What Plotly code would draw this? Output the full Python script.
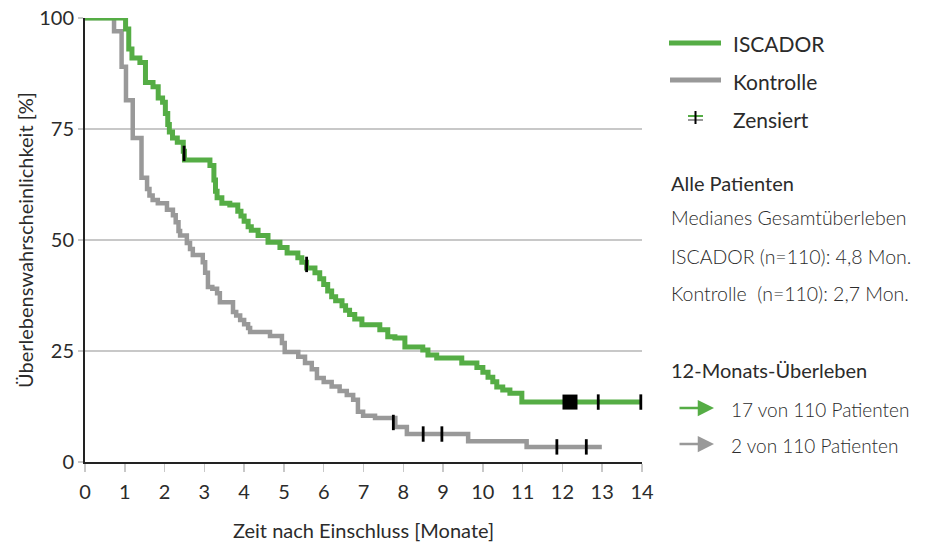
import plotly.graph_objects as go

# ---------------- data ----------------
iscador_t = [0, 1.02, 1.10, 1.18, 1.38, 1.52, 1.71, 1.84, 1.95, 2.02, 2.08, 2.12, 2.20, 2.32, 2.47, 2.50,
             3.14, 3.24, 3.28, 3.32, 3.44, 3.64, 3.84, 3.92, 4.00, 4.10, 4.18, 4.35, 4.60, 4.90, 5.08,
             5.35, 5.45, 5.57, 5.78, 5.90, 6.00, 6.10, 6.20, 6.30, 6.46, 6.55, 6.65, 6.78, 6.96, 7.41,
             7.61, 7.79, 8.04, 8.49, 8.62, 8.84, 9.47, 9.85, 10.00, 10.13, 10.25, 10.35, 10.50, 10.68,
             10.98, 13.97]
iscador_s = [100, 97.5, 93, 91, 90, 85.5, 84.5, 82, 81, 78.5, 76, 74.3, 73, 72, 70, 68,
             66.8, 63.5, 61, 59.5, 58.3, 57.9, 56.5, 55.4, 54.2, 53, 52.2, 51, 49.5, 48.3, 47.1,
             46, 45, 43.7, 42.6, 41.3, 40, 38.5, 37.2, 36.3, 35.2, 34.2, 33.2, 32.2, 30.9, 29.8,
             28.2, 27.9, 25.9, 25.2, 24.1, 23.4, 22.3, 21.3, 20.2, 19.1, 18.1, 16.9, 16.2, 15.5,
             13.5, 13.5]

kontrolle_t = [0, 0.73, 0.92, 1.03, 1.20, 1.42, 1.56, 1.62, 1.70, 1.83, 2.06, 2.21, 2.28, 2.35, 2.39,
               2.56, 2.64, 2.71, 2.96, 3.02, 3.09, 3.20, 3.32, 3.39, 3.72, 3.80, 3.90, 4.00, 4.10, 4.15,
               4.65, 4.95, 5.02, 5.36, 5.53, 5.70, 5.83, 6.00, 6.20, 6.40, 6.58, 6.74, 6.86, 6.99, 7.29,
               7.80, 8.09, 9.63, 11.10, 12.99]
kontrolle_s = [100, 97, 89, 81.5, 73, 64, 61.5, 60, 59, 58.3, 56.8, 55.6, 54, 52, 51,
               49.3, 48, 46.6, 45, 42.6, 39.4, 39, 38, 36, 33.8, 33, 32, 31, 30.2, 29.3,
               28.4, 26.8, 24.8, 23.7, 22.3, 20.9, 18.9, 18, 17, 16, 15.1, 14, 11.3, 10.4, 9.9,
               7.9, 6.3, 4.7, 3.4, 3.4]

cens_isc_t = [2.49, 5.57, 12.9, 13.97]
cens_isc_s = [69.5, 44.5, 13.5, 13.5]
cens_isc_block_t = [12.19]
cens_isc_block_s = [13.5]
cens_kon_t = [7.75, 8.5, 8.97, 11.86, 12.6]
cens_kon_s = [8.9, 6.3, 6.3, 3.4, 3.4]

x_ticks = list(range(0, 15))
y_ticks = [0, 25, 50, 75, 100]

legend_labels = ["ISCADOR", "Kontrolle", "Zensiert"]
info_lines = ["Medianes Gesamtüberleben", "ISCADOR (n=110): 4,8 Mon.", "Kontrolle  (n=110): 2,7 Mon."]
surv12 = ["17 von 110 Patienten", "2 von 110 Patienten"]

GREEN = "#55AD45"
GRAY = "#999999"
TXT = "#2b2b2b"
FONT = "Lato"

W, H = 946, 547
L, R, T, B = 85, 304, 18, 85
PW, PH = W - L - R, H - T - B


def px(xp):  # page x -> paper
    return (xp - L) / PW


def py(yp):  # page y -> paper
    return (H - B - yp) / PH


fig = go.Figure()
fig.add_trace(go.Scatter(x=kontrolle_t, y=kontrolle_s, mode="lines", line=dict(color=GRAY, width=4.5, shape="hv"),
                         cliponaxis=False, showlegend=False, hoverinfo="skip"))
fig.add_trace(go.Scatter(x=iscador_t, y=iscador_s, mode="lines", line=dict(color=GREEN, width=5, shape="hv"),
                         cliponaxis=False, showlegend=False, hoverinfo="skip"))
fig.add_trace(go.Scatter(x=cens_kon_t + cens_isc_t, y=cens_kon_s + cens_isc_s, mode="markers",
                         marker=dict(symbol="line-ns", size=11, line=dict(color="black", width=2.8)),
                         cliponaxis=False, showlegend=False, hoverinfo="skip"))
fig.add_trace(go.Scatter(x=cens_isc_block_t, y=cens_isc_block_s, mode="markers",
                         marker=dict(symbol="square", size=15, color="black"),
                         cliponaxis=False, showlegend=False, hoverinfo="skip"))

shapes = []
annotations = []

# legend
shapes.append(dict(type="line", xref="paper", yref="paper", x0=px(669), x1=px(721), y0=py(43), y1=py(43),
                   line=dict(color=GREEN, width=5)))
shapes.append(dict(type="line", xref="paper", yref="paper", x0=px(670), x1=px(721), y0=py(80), y1=py(80),
                   line=dict(color=GRAY, width=5)))
shapes.append(dict(type="line", xref="paper", yref="paper", x0=px(688), x1=px(703), y0=py(116), y1=py(116),
                   line=dict(color=GREEN, width=2)))
shapes.append(dict(type="line", xref="paper", yref="paper", x0=px(688), x1=px(703), y0=py(120), y1=py(120),
                   line=dict(color=GRAY, width=2)))
shapes.append(dict(type="line", xref="paper", yref="paper", x0=px(695.5), x1=px(695.5), y0=py(111), y1=py(124),
                   line=dict(color="black", width=2)))
for lab, yy in zip(legend_labels, [44, 81, 119]):
    annotations.append(dict(x=px(731), y=py(yy), xref="paper", yref="paper", text=lab, showarrow=False,
                            xanchor="left", yanchor="middle", font=dict(family=FONT, size=21, color=TXT)))

annotations.append(dict(x=px(669), y=py(183), xref="paper", yref="paper", text="Alle Patienten", showarrow=False,
                        xanchor="left", yanchor="middle", font=dict(family=FONT, size=20, color=TXT)))
for lab, yy in zip(info_lines, [218, 256, 293]):
    annotations.append(dict(x=px(669), y=py(yy), xref="paper", yref="paper", text=lab, showarrow=False,
                            xanchor="left", yanchor="middle",
                            font=dict(family=FONT, size=19.5, color=TXT, weight=300)))
annotations.append(dict(x=px(669), y=py(370), xref="paper", yref="paper", text="12-Monats-Überleben",
                        showarrow=False, xanchor="left", yanchor="middle",
                        font=dict(family=FONT, size=20, color=TXT)))
for lab, yy, col in zip(surv12, [408, 444], [GREEN, GRAY]):
    annotations.append(dict(x=px(714), y=py(yy), xref="paper", yref="paper", text="", showarrow=True,
                            ax=-36, ay=0, arrowhead=2, arrowsize=1.3, arrowwidth=2.5, arrowcolor=col,
                            standoff=0, startstandoff=0))
    annotations.append(dict(x=px(729), y=py(yy + 1), xref="paper", yref="paper", text=lab, showarrow=False,
                            xanchor="left", yanchor="middle",
                            font=dict(family=FONT, size=19, color=TXT, weight=300)))

fig.update_layout(
    width=W, height=H,
    margin=dict(l=L, r=R, t=T, b=B, pad=0, autoexpand=False),
    paper_bgcolor="white", plot_bgcolor="white",
    shapes=shapes, annotations=annotations,
    showlegend=False, hovermode=False,
    font=dict(family=FONT, color=TXT),
    xaxis=dict(range=[0, 14], tickvals=x_ticks, ticktext=[str(v) for v in x_ticks], automargin=False,
               showgrid=False, zeroline=False, showline=True, linecolor="#222", linewidth=2,
               ticks="outside", ticklen=8, tickcolor="#c8c8c8", tickwidth=1.5, ticklabelstandoff=3,
               ticklabeloverflow="allow",
               tickfont=dict(family=FONT, size=20, color=TXT),
               title=dict(text="Zeit nach Einschluss [Monate]", font=dict(family=FONT, size=20, color=TXT),
                          standoff=22)),
    yaxis=dict(range=[0, 100], tickvals=y_ticks, ticktext=[str(v) for v in y_ticks], automargin=False,
               showgrid=True, gridcolor="#c8c8c8", gridwidth=1.5, zeroline=False,
               showline=True, linecolor="#222", linewidth=2,
               ticks="outside", ticklen=5, tickcolor="#c8c8c8", tickwidth=1.5,
               ticklabeloverflow="allow",
               tickfont=dict(family=FONT, size=20, color=TXT),
               title=dict(text="Überlebenswahrscheinlichkeit [%]", font=dict(family=FONT, size=20, color=TXT),
                          standoff=0)),
)

fig.write_html("out.html", config={"displayModeBar": False, "staticPlot": True},
               post_script="document.body.style.margin='0';")
